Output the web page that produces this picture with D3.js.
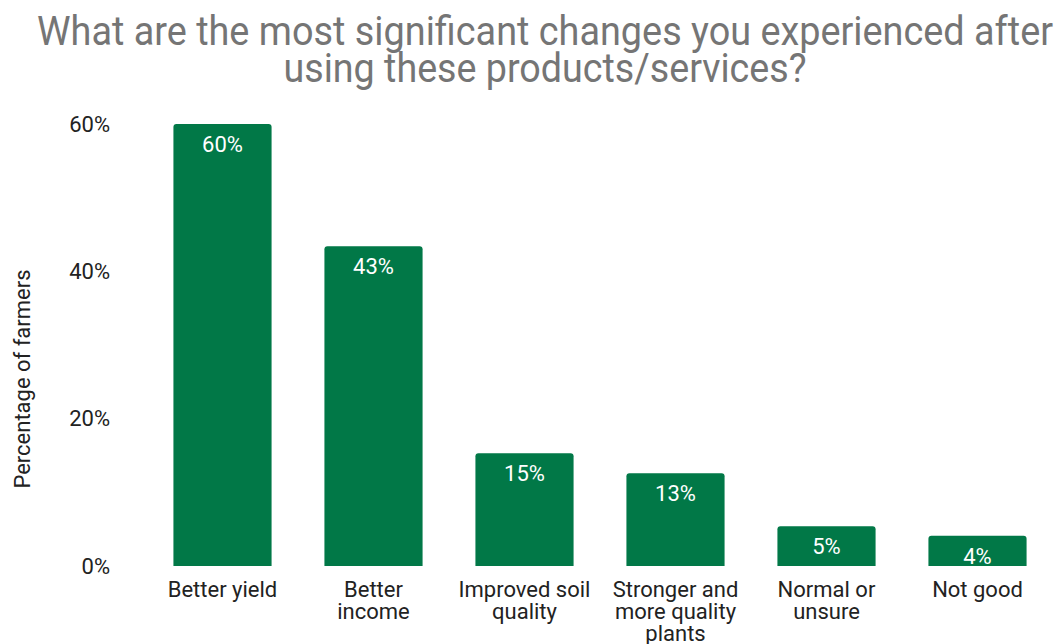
<!DOCTYPE html>
<html>
<head>
<meta charset="utf-8">
<script src="https://cdn.jsdelivr.net/npm/d3@7"></script>
<style>
  html, body { margin: 0; padding: 0; background: #fff; }
  svg { display: block; font-family: Roboto, "Noto Sans", sans-serif; }
</style>
</head>
<body>
<div id="chart"></div>
<script>
// 数据
const categories = ['Better yield', 'Better\nincome', 'Improved soil\nquality', 'Stronger and\nmore quality\nplants', 'Normal or\nunsure', 'Not good'];
const values = [60, 43.4, 15.3, 12.6, 5.4, 4.1];
const yTicks = [0, 20, 40, 60];
const titleLines = ['What are the most significant changes you experienced after', 'using these products/services?'];
const yLabel = 'Percentage of farmers';

const width = 1057, height = 644;
const barColor = '#017847';
const fs = 22;

const svg = d3.select('#chart').append('svg')
    .attr('width', width)
    .attr('height', height);

// 标题（较窄字形，用 textLength 压缩）
const titleLens = [1016, 523];
svg.append('g')
    .selectAll('text')
    .data(titleLines)
    .enter().append('text')
    .attr('x', 545)
    .attr('y', (d, i) => 45 + i * 37)
    .attr('text-anchor', 'middle')
    .attr('font-size', 40)
    .attr('fill', '#757575')
    .attr('textLength', (d, i) => titleLens[i])
    .attr('lengthAdjust', 'spacingAndGlyphs')
    .text(d => d);

// 比例尺
const x = d3.scaleBand()
    .domain(categories)
    .range([147, 1053])
    .paddingInner(0.35)
    .paddingOuter(0.175);

const y = d3.scaleLinear()
    .domain([0, 60])
    .range([566, 124]);

// Y轴
const yAxis = svg.append('g')
    .attr('transform', 'translate(110,0)')
    .call(d3.axisLeft(y).tickValues(yTicks).tickFormat(d => d + '%').tickSize(0).tickPadding(0));
yAxis.select('.domain').remove();
yAxis.selectAll('text')
    .attr('font-size', fs)
    .attr('font-family', 'Roboto, sans-serif')
    .attr('fill', '#222');

svg.append('text')
    .attr('transform', 'translate(30,379) rotate(-90)')
    .attr('text-anchor', 'middle')
    .attr('font-size', fs)
    .attr('fill', '#222')
    .text(yLabel);

// 柱子（顶部圆角）
function barPath(x0, y0, w, h, r) {
    r = Math.min(r, h);
    return `M${x0},${y0 + h}V${y0 + r}Q${x0},${y0} ${x0 + r},${y0}H${x0 + w - r}Q${x0 + w},${y0} ${x0 + w},${y0 + r}V${y0 + h}Z`;
}

const bars = svg.append('g')
    .selectAll('g')
    .data(categories.map((c, i) => ({ c, v: values[i] })))
    .enter().append('g');

bars.append('path')
    .attr('d', d => barPath(x(d.c), y(d.v), x.bandwidth(), y(0) - y(d.v), 3))
    .attr('fill', barColor);

bars.append('text')
    .attr('x', d => x(d.c) + x.bandwidth() / 2)
    .attr('y', d => y(d.v) + 28)
    .attr('text-anchor', 'middle')
    .attr('font-size', fs)
    .attr('fill', '#fff')
    .text(d => Math.round(d.v) + '%');

// X轴标签
const xLabels = svg.append('g')
    .selectAll('text')
    .data(categories)
    .enter().append('text')
    .attr('x', d => x(d) + x.bandwidth() / 2)
    .attr('y', 597)
    .attr('text-anchor', 'middle')
    .attr('font-size', fs)
    .attr('fill', '#222');

xLabels.selectAll('tspan')
    .data(d => d.split('\n').map(t => ({ t, cx: x(d) + x.bandwidth() / 2 })))
    .enter().append('tspan')
    .attr('x', d => d.cx)
    .attr('dy', (d, i) => i === 0 ? 0 : 22)
    .text(d => d.t);
</script>
</body>
</html>
